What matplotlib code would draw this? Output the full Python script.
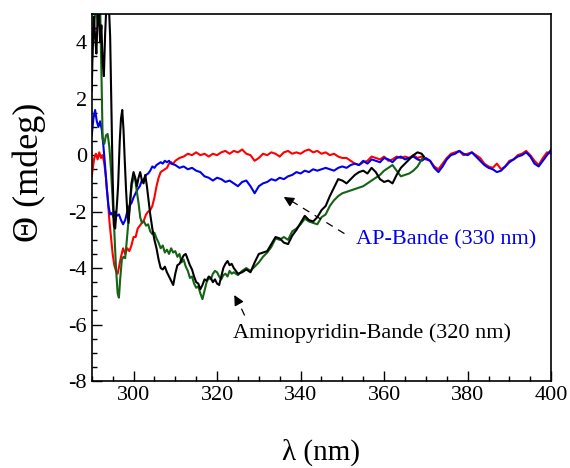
import matplotlib
matplotlib.use("Agg")
import matplotlib.pyplot as plt
from matplotlib.ticker import MultipleLocator

plt.rcParams['font.family'] = ['Liberation Serif', 'DejaVu Serif']
plt.rcParams['axes.unicode_minus'] = False

# CD spectra, wavelength (nm) / ellipticity (mdeg)
red_nm = [290.0, 290.3, 290.6, 291.0, 291.4, 291.8, 292.2, 292.6, 293.0, 293.4,
          293.8, 294.2, 294.6, 295.0, 295.4, 295.8, 296.2, 296.6, 297.0, 297.5,
          298.0, 298.5, 299.0, 299.5, 300.0, 300.5, 301.0, 301.5, 302.0, 302.5,
          303.0, 303.5, 304.0, 304.5, 305.0, 305.5, 306.0, 306.5, 307.0, 307.5,
          308.0, 308.5, 309.0, 309.5,
          310, 311, 312, 313, 314, 315, 316, 317, 318, 319, 320, 321, 322, 323,
          324, 325, 326, 327, 328, 329, 330, 331, 332, 333, 334, 335, 336, 337,
          338, 339, 340, 341, 342, 343, 344, 345, 346, 347, 348, 349, 350, 351,
          352, 353, 354, 355, 356, 357, 358, 359, 360, 361, 362, 363, 364, 365,
          366, 367, 368, 369, 370, 371, 372, 373, 374, 375, 376, 377, 378, 379,
          380, 381, 382, 383, 384, 385, 386, 387, 388, 389, 390, 391, 392, 393,
          394, 395, 396, 397, 398, 399, 400]
red_val = [-0.75, -0.4, -0.1, 0.05, -0.15, 0.1, -0.1, 0.0, -0.3, -0.8,
           -1.5, -2.3, -2.9, -3.5, -3.9, -4.1, -4.2, -3.9, -3.6, -3.3,
           -3.5, -3.3, -3.4, -3.2, -2.9, -2.9, -2.6, -2.5, -2.4, -2.3,
           -2.1, -2.0, -1.95, -1.8, -1.5, -1.1, -0.8, -0.6, -0.55, -0.5,
           -0.45, -0.3, -0.25, -0.3,
           -0.2, -0.1, -0.05, 0.05, 0.0, 0.1, 0.0, 0.05, -0.05, 0.05, 0.0, 0.1, 0.15, 0.05,
           0.15, 0.1, 0.2, 0.05, 0.0, -0.2, -0.1, 0.05, 0.0, 0.1, 0.05, -0.05, 0.1, 0.15,
           0.05, 0.1, 0.05, 0.15, 0.2, 0.1, 0.15, 0.05, 0.1, 0.0, 0.05, -0.05, -0.1, -0.1,
           -0.2, -0.3, -0.35, -0.25, -0.2, -0.05, -0.1, -0.15, -0.05, -0.2, -0.15, -0.05, -0.1, -0.05,
           -0.1, 0.0, -0.1, -0.05, -0.15, -0.2, -0.4, -0.5, -0.3, -0.1, 0.05, 0.1, 0.15, 0.0,
           0.05, 0.1, 0.0, -0.1, -0.3, -0.4, -0.45, -0.3, -0.5, -0.4, -0.2, -0.15, 0.0, 0.05,
           0.15, 0.0, -0.2, -0.35, -0.1, 0.1, 0.05]

blue_nm = [290.0, 290.4, 290.8, 291.2, 291.6, 292.0, 292.4, 292.8, 293.2, 293.6,
           294.0, 294.4, 294.8, 295.2, 295.6, 296.0, 296.5, 297.0, 297.5, 298.0,
           298.5, 299.0, 299.5, 300.0, 300.5, 301.0, 301.5, 302.0, 302.5, 303.0,
           303.5, 304.0, 304.5, 305.0, 305.5, 306.0, 306.5, 307.0, 307.5, 308.0,
           308.5,
           309, 310, 311, 312, 313, 314, 315, 316, 317, 318, 319, 320, 321, 322,
           323, 324, 325, 326, 327, 328, 329, 330, 331, 332, 333, 334, 335, 336,
           337, 338, 339, 340, 341, 342, 343, 344, 345, 346, 347, 348, 349, 350,
           351, 352, 353, 354, 355, 356, 357, 358, 359, 360, 361, 362, 363, 364,
           365, 366, 367, 368, 369, 370, 371, 372, 373, 374, 375, 376, 377, 378,
           379, 380, 381, 382, 383, 384, 385, 386, 387, 388, 389, 390, 391, 392,
           393, 394, 395, 396, 397, 398, 399, 400]
blue_val = [0.7, 1.3, 1.6, 1.2, 1.0, 1.2, 0.9, 0.3, -0.4, -1.2,
            -1.8, -2.1, -2.05, -2.2, -2.0, -2.15, -2.1, -2.3, -2.45, -2.3,
            -2.0, -1.8, -1.7, -1.5, -1.35, -1.2, -1.1, -0.9, -0.85, -0.7,
            -0.65, -0.55, -0.4, -0.45, -0.35, -0.3, -0.25, -0.3, -0.2, -0.25,
            -0.2,
            -0.3, -0.35, -0.45, -0.4, -0.5, -0.45, -0.55, -0.6, -0.75, -0.8, -0.9, -0.8, -0.85, -0.95,
            -0.9, -1.0, -1.1, -0.95, -0.9, -1.1, -1.35, -1.1, -1.0, -0.95, -0.85, -0.9, -0.8, -0.85,
            -0.75, -0.7, -0.6, -0.65, -0.55, -0.6, -0.5, -0.55, -0.5, -0.45, -0.5, -0.55, -0.45, -0.4,
            -0.45, -0.35, -0.3, -0.35, -0.2, -0.3, -0.15, -0.2, -0.25, -0.1, -0.15, -0.25, -0.1, -0.05,
            -0.15, -0.1, -0.05, -0.15, -0.2, -0.1, -0.2, -0.45, -0.6, -0.4, -0.15, 0.0, 0.05, 0.15,
            0.05, 0.0, 0.1, -0.05, -0.2, -0.35, -0.45, -0.5, -0.6, -0.55, -0.4, -0.25, -0.15, -0.05,
            0.0, 0.1, -0.05, -0.3, -0.4, -0.2, 0.0, 0.2]

black_nm = [290.0, 290.2, 290.5, 290.8, 291.1, 291.4, 291.7, 292.0, 292.3, 292.6,
            292.9, 293.2, 293.5, 293.8, 294.1, 294.4, 294.7, 295.0, 295.3, 295.6,
            296.0, 296.3, 296.7, 297.0, 297.3, 297.6, 297.9, 298.2, 298.5, 298.8,
            299.1, 299.5, 300.0, 300.4, 300.8, 301.2, 301.6, 302.0, 302.4, 302.8,
            303.2, 303.6, 304.0, 304.5, 305.0, 305.5, 306.0, 306.5, 307.0, 307.5,
            308.0, 308.5, 309.0, 309.5, 310.0, 310.5, 311.0, 311.5, 312.0, 312.5,
            313.0, 313.5, 314.0, 314.5, 315.0, 315.5, 316.0, 316.5, 317.0, 317.5,
            318.0, 318.5, 319.0, 319.5, 320.0, 320.5, 321.0, 321.5, 322.0, 322.5,
            323.0, 323.5,
            324, 325, 326, 327, 328, 329, 330, 331, 332, 333, 334, 335, 336, 337,
            338, 339, 340, 341, 342, 343, 344, 345, 346, 347, 348, 349, 350, 351,
            352, 353, 354, 355, 356, 357, 358, 359, 360, 361, 362, 363, 364, 365,
            366, 367, 368, 369, 369.5]
black_val = [2.3, 3.7, 4.9, 4.2, 3.6, 4.9, 5.2, 4.0, 4.6, 3.3,
             2.8, 4.3, 5.3, 5.1, 5.3, 4.2, 1.8, -0.8, -2.5, -2.6,
             -1.8, -1.1, 0.5, 1.3, 1.6, 0.9, -0.2, -1.2, -2.0, -2.4,
             -1.8, -1.0, -0.6, -0.8, -1.1, -0.8, -0.6, -0.9, -1.0, -0.7,
             -1.1, -1.6, -2.1, -2.6, -3.0, -3.3, -3.7, -4.0, -4.05, -3.95,
             -4.15, -4.3, -4.45, -4.6, -4.2, -3.9, -3.85, -3.7, -3.55, -3.5,
             -3.7, -3.9, -4.05, -4.3, -4.5, -4.55, -4.75, -4.6, -4.4, -4.45,
             -4.3, -4.35, -4.5, -4.4, -4.55, -4.6, -4.3, -4.0, -3.85, -3.75,
             -3.9, -3.85,
             -4.0, -4.2, -4.15, -4.05, -4.15, -3.8, -3.5, -3.45, -3.4, -3.15, -2.9, -2.95, -3.1, -3.15,
             -2.85, -2.65, -2.4, -2.15, -2.3, -2.35, -2.2, -1.95, -1.8, -1.45, -1.15, -0.85, -0.9, -1.0,
             -0.85, -0.7, -0.6, -0.55, -0.65, -0.45, -0.6, -0.85, -0.95, -0.9, -1.0, -0.7, -0.45, -0.3,
             -0.15, 0.0, 0.1, 0.05, -0.05]

green_nm = [290.0, 290.5, 291.0, 291.5, 292.0, 292.3, 292.6, 293.0, 293.4, 293.8,
            294.2, 294.6, 295.0, 295.4, 295.8, 296.2, 296.5, 296.8, 297.2, 297.6,
            298.0, 298.4, 298.8, 299.2, 299.6, 300.0, 300.4, 300.8, 301.2, 301.6,
            302.0, 302.5, 303.0, 303.5, 304.0, 304.5, 305.0, 305.5, 306.0, 306.5,
            307.0, 307.5, 308.0, 308.5, 309.0, 309.5, 310.0, 310.5, 311.0, 311.5,
            312.0, 312.5, 313.0, 313.5, 314.0, 314.5, 315.0, 315.5, 316.0, 316.5,
            317.0, 317.5, 318.0, 318.5, 319.0, 319.5, 320.0, 320.5, 321.0, 321.5,
            322.0, 322.5, 323.0, 323.5,
            324, 325, 326, 327, 328, 329, 330, 331, 332, 333, 334, 335, 336, 337,
            338, 339, 340, 341, 342, 343, 344, 345, 346, 347, 348, 349, 350, 351,
            352, 353, 354, 355, 356, 357, 358, 359, 360, 361, 362, 363, 364, 365,
            366, 367, 368, 369, 369.5]
green_val = [3.2, 4.5, 5.3, 4.6, 5.3, 3.0, 0.6, 0.4, 0.7, 0.75,
             0.3, -0.5, -1.6, -2.7, -4.0, -4.9, -5.05, -4.4, -3.7, -3.6,
             -3.65, -3.0, -2.3, -1.6, -1.05, -0.8, -0.85, -1.3, -1.7, -2.2,
             -2.4, -2.35, -2.5, -2.45, -2.7, -2.8, -2.75, -2.95, -3.1, -3.3,
             -3.2, -3.45, -3.35, -3.5, -3.3, -3.45, -3.4, -3.6, -3.5, -3.8,
             -3.7, -3.95, -4.1, -4.35, -4.3, -4.55, -4.7, -4.65, -4.9, -5.1,
             -4.8, -4.5, -4.35, -4.4, -4.2, -4.1, -4.15, -4.3, -4.4, -4.25,
             -4.2, -4.3, -4.1, -4.2,
             -4.15, -4.25, -4.1, -4.0, -4.1, -3.95, -3.8, -3.6, -3.45, -3.25, -2.95, -3.0, -2.9, -3.0,
             -2.7, -2.6, -2.45, -2.25, -2.35, -2.4, -2.45, -2.2, -2.1, -1.8, -1.6, -1.45, -1.35, -1.3,
             -1.25, -1.2, -1.15, -1.1, -1.0, -0.9, -0.8, -0.7, -0.55, -0.45, -0.35, -0.55, -0.75, -0.7,
             -0.65, -0.55, -0.4, -0.15, -0.05]

fig, ax = plt.subplots(figsize=(5.7, 4.68), dpi=100)
fig.subplots_adjust(left=0.161, right=0.967, bottom=0.186, top=0.970)

lw = 1.5
ax.plot(red_nm, red_val, color='#ff0000', lw=lw)
ax.plot(blue_nm, blue_val, color='#0000ee', lw=lw)
ax.plot(green_nm, green_val, color='#146414', lw=lw)
ax.plot(black_nm, black_val, color='black', lw=lw)

ax.set_xlim(290, 400)
ax.set_ylim(-8, 5)
ax.xaxis.set_major_locator(MultipleLocator(20))
ax.xaxis.set_minor_locator(MultipleLocator(5))
ax.yaxis.set_major_locator(MultipleLocator(2))
ax.yaxis.set_minor_locator(MultipleLocator(0.5))
ax.tick_params(which='both', direction='in', top=False, right=False,
               labelsize=16, width=1.0)
ax.tick_params(which='major', length=7)
ax.tick_params(which='minor', length=3.5)
for s in ax.spines.values():
    s.set_linewidth(1.2)

ax.set_xlabel('λ (nm)', fontsize=21)
ax.xaxis.set_label_coords(0.5, -0.158)
ax.set_ylabel('Θ (mdeg)', fontsize=26)
ax.yaxis.label.set_va('center')
ax.yaxis.set_label_coords(-0.137, 0.569)

# band labels with dashed pointers
ax.plot([350.5, 337.0], [-2.78, -1.55], color='black', lw=0.9, ls=(0, (6, 5)))
ax.annotate('', xy=(335.4, -1.43), xytext=(337.5, -1.62),
            arrowprops=dict(arrowstyle='-|>', color='black', lw=0.9,
                            mutation_scale=15))
ax.text(353.3, -3.0, 'AP-Bande (330 nm)', color='#0000ee', fontsize=16,
        va='center', ha='left')

ax.plot([326.6, 324.6], [-5.68, -5.05], color='black', lw=0.9, ls=(0, (6, 5)))
ax.annotate('', xy=(323.8, -4.87), xytext=(325.2, -5.25),
            arrowprops=dict(arrowstyle='-|>', color='black', lw=0.9,
                            mutation_scale=15))
ax.text(323.8, -6.3, 'Aminopyridin-Bande (320 nm)', color='black',
        fontsize=16, va='center', ha='left')

fig.savefig('out.png', dpi=100)
